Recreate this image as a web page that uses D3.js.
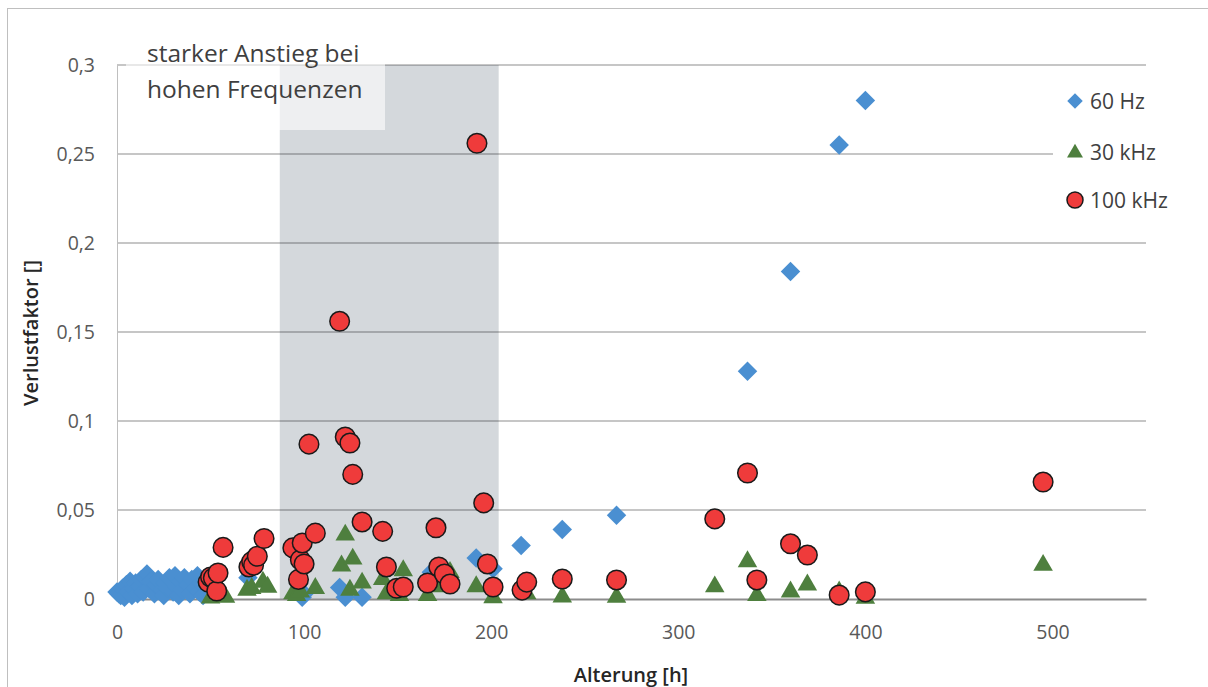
<!DOCTYPE html>
<html><head><meta charset="utf-8">
<script src="https://cdn.jsdelivr.net/npm/d3@7"></script>
<style>body{margin:0;background:#fff}svg{display:block}</style>
</head><body>
<svg id="c" width="1208" height="687"></svg>
<script>
// ---- data ----
const xTicks = [0,100,200,300,400,500];
const yTicks = [0,0.05,0.1,0.15,0.2,0.25,0.3];
const yTickLabels = ["0","0,05","0,1","0,15","0,2","0,25","0,3"];
const seriesNames = ["60 Hz","30 kHz","100 kHz"];
const shadeRange = [87, 204];
const annotation = ["starker Anstieg bei","hohen Frequenzen"];

const hours60 = [0,1,2,3,4,5,6,7,8,9,10,11,12,13,14,15,16,17,18,20,21,22,24,25,26,27,28,30,31,32,33,34,35,36,38,39,40,42,43,44,45,46,48,50,
  70,99,100,119,122,131,168,192,201,216,238,267,337,360,386,400];
const vals60 = [0.004,0.003,0.002,0.006,0.001,0.008,0.004,0.010,0.002,0.006,0.009,0.003,0.007,0.011,0.004,0.012,0.014,0.006,0.010,0.003,0.008,0.011,0.005,0.002,0.009,0.006,0.012,0.004,0.013,0.007,0.002,0.010,0.005,0.012,0.008,0.003,0.011,0.006,0.013,0.004,0.009,0.002,0.012,0.010,
  0.012,0.001,0.003,0.0065,0.001,0.001,0.015,0.023,0.017,0.030,0.039,0.047,0.128,0.184,0.255,0.280];

const hours30 = [50,53,58,69.5,72,78,80.5,94,96,98,106,120,122,124.5,126,131,142,144,151,153,166,172.5,178,192,201,219,238,267,319.5,337,342,360,369,386,400,495];
const vals30 = [0.0006,0.002,0.001,0.005,0.006,0.0095,0.0067,0.003,0.002,0.004,0.006,0.0186,0.036,0.005,0.0225,0.009,0.011,0.003,0.002,0.016,0.002,0.007,0.015,0.007,0.0008,0.003,0.0012,0.001,0.0069,0.021,0.002,0.004,0.008,0.004,0.0005,0.019];

const hours100 = [48.7,50,51.5,53.3,54,56.7,70.5,72,73,75,78.6,94,97,98,99,100,102.6,106,119,122,124.5,126,131,142,144,149.5,153,166,170.5,172,175,178,192.4,196,198,201,216.5,219,238,267,319.5,337,342,360,369,386,400,495];
const vals100 = [0.0095,0.0124,0.0118,0.0045,0.0146,0.029,0.018,0.021,0.019,0.024,0.034,0.0287,0.011,0.022,0.0315,0.0197,0.087,0.037,0.156,0.091,0.0876,0.070,0.0433,0.038,0.018,0.006,0.0067,0.009,0.040,0.018,0.014,0.0084,0.256,0.054,0.0197,0.0067,0.005,0.0095,0.0112,0.0107,0.045,0.0708,0.0107,0.031,0.0247,0.0022,0.004,0.0657];

// ---- layout ----
const svg = d3.select("#c");
const L = 117, R = 1146, T = 65, B = 599;
const x = d3.scaleLinear().domain([0,550]).range([L,R]);
const y = d3.scaleLinear().domain([0,0.3]).range([B,T]);
const font = "'Open Sans', 'Segoe UI', sans-serif";
const blue = "#4a8fd1", green = "#4e7f3e", red = "#ef3b3b";

// outer border
svg.append("rect").attr("x",7.5).attr("y",8.5).attr("width",1210).attr("height",700)
  .attr("fill","#fff").attr("stroke","#bfbfbf").attr("stroke-width",1);

// shaded band
svg.append("rect").attr("x",x(shadeRange[0])).attr("y",T)
  .attr("width",x(shadeRange[1])-x(shadeRange[0])).attr("height",B-T).attr("fill","#d4d8dc");

// gridlines
svg.append("g").selectAll("line").data(yTicks.slice(1)).join("line")
  .attr("x1",L).attr("x2",R).attr("y1",d=>y(d)).attr("y2",d=>y(d))
  .attr("stroke","#000").attr("stroke-opacity",0.3).attr("stroke-width",1.5);

// y axis
const yAxis = svg.append("g").attr("transform",`translate(${L},0)`)
  .call(d3.axisLeft(y).tickValues(yTicks).tickFormat((d,i)=>yTickLabels[i]).tickSize(0).tickPadding(22));
yAxis.select(".domain").attr("stroke","#bfbfbf").attr("stroke-width",1);
yAxis.selectAll("text").attr("font-family",font).attr("font-size",19.5).attr("fill","#595959");

// x axis
const xAxis = svg.append("g").attr("transform",`translate(0,${B})`)
  .call(d3.axisBottom(x).tickValues(xTicks).tickSize(0).tickPadding(26));
xAxis.select(".domain").attr("stroke","#8c8c8c").attr("stroke-width",2);
xAxis.selectAll("text").attr("font-family",font).attr("font-size",19.5).attr("fill","#595959");

// annotation box
svg.append("rect").attr("x",L+9).attr("y",36).attr("width",259).attr("height",94)
  .attr("fill","#fff").attr("fill-opacity",0.6);
svg.append("g").selectAll("text").data(annotation).join("text")
  .attr("x",147).attr("y",(d,i)=>62+i*36).text(d=>d)
  .attr("font-family",font).attr("font-size",24.5).attr("fill","#3f3f3f");

// series
const diamond = d3.symbol().type(d3.symbolSquare).size(190)();
const tri = d3.symbol().type(d3.symbolTriangle).size(165)();

svg.append("g").selectAll("path").data(d3.range(hours60.length)).join("path")
  .attr("d",diamond).attr("transform",i=>`translate(${x(hours60[i])},${y(vals60[i])}) rotate(45)`)
  .attr("fill",blue);
svg.append("g").selectAll("path").data(d3.range(hours30.length)).join("path")
  .attr("d",tri).attr("transform",i=>`translate(${x(hours30[i])},${y(vals30[i])})`)
  .attr("fill",green);
svg.append("g").selectAll("circle").data(d3.range(hours100.length)).join("circle")
  .attr("cx",i=>x(hours100[i])).attr("cy",i=>y(vals100[i])).attr("r",9.8)
  .attr("fill",red).attr("stroke","#1a1a1a").attr("stroke-width",1.5);

// legend
const lg = svg.append("g");
lg.append("rect").attr("x",1053).attr("y",78).attr("width",145).attr("height",148).attr("fill","#fff");
const ly = [101,152,200];
lg.append("path").attr("d",d3.symbol().type(d3.symbolSquare).size(120)()).attr("transform",`translate(1075,${ly[0]}) rotate(45)`).attr("fill",blue);
lg.append("path").attr("d",d3.symbol().type(d3.symbolTriangle).size(110)()).attr("transform",`translate(1075,${ly[1]+1})`).attr("fill",green);
lg.append("circle").attr("cx",1075).attr("cy",ly[2]).attr("r",8).attr("fill",red).attr("stroke","#1a1a1a").attr("stroke-width",1.5);
lg.selectAll("text").data(seriesNames).join("text")
  .attr("x",1090).attr("y",(d,i)=>ly[i]).attr("dy","0.36em").text(d=>d)
  .attr("font-family",font).attr("font-size",21).attr("fill","#404040");

// axis titles
svg.append("text").attr("x",631).attr("y",682).attr("text-anchor","middle").text("Alterung [h]")
  .attr("font-family",font).attr("font-size",20).attr("font-weight",600).attr("fill","#262626");
svg.append("text").attr("transform","translate(38,333) rotate(-90)").attr("text-anchor","middle").text("Verlustfaktor []")
  .attr("font-family",font).attr("font-size",20).attr("font-weight",600).attr("fill","#262626");
</script>
</body></html>
